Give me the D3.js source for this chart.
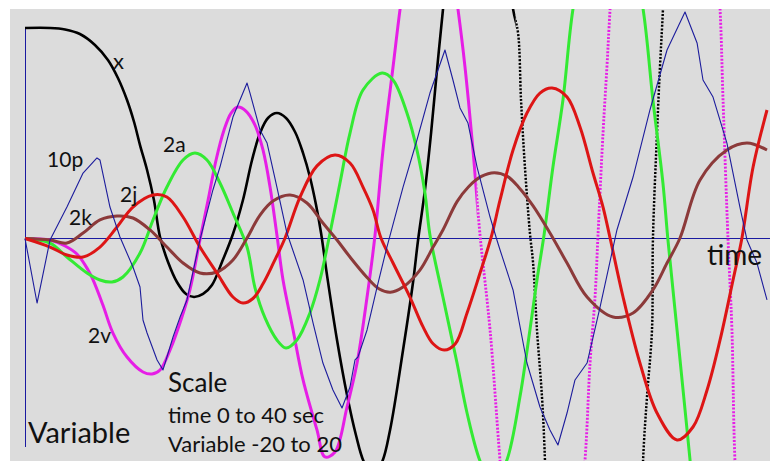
<!DOCTYPE html>
<html>
<head>
<meta charset="utf-8">
<script src="https://cdn.jsdelivr.net/npm/d3@7"></script>
<style>
  html, body { margin: 0; padding: 0; background: #ffffff; }
  svg { display: block; }
  text { font-family: Lato, "Open Sans", sans-serif; fill: #111111; }
</style>
</head>
<body>
<svg id="chart" width="770" height="461"></svg>
<script>
// Scale of the plot: time 0..40 s, variable -20..20
const timeDomain = [0, 40];
const valueDomain = [-20, 20];

// x: position
const xSeries = [
  [0,20],[1.35,20],[2.16,19.86],[2.96,19.43],[3.77,18.39],[4.47,16.96],[5.01,15.25],[5.5,13.16],
  [5.88,11.07],[6.2,8.88],[6.58,6.51],[6.95,3.66],[7.28,0.14],[7.71,-2.23],[8.19,-4.13],[8.68,-5.27],
  [9.11,-5.56],[9.6,-5.27],[10.08,-4.42],[10.62,-2.23],[11.21,0.43],[11.75,3.66],[12.24,7.46],
  [12.67,10.02],[13.1,11.45],[13.58,11.92],[14.07,11.45],[14.56,10.12],[14.99,8.12],[15.36,5.84],
  [15.69,3.18],[15.96,0.52],[16.28,-3.47],[16.82,-9.64],[17.36,-14.87],[17.84,-18.67],[18.27,-21.23],
  [18.76,-22.47],[19.25,-21.23],[19.68,-18.19],[20.38,-10.59],[20.92,-4.13],[21.19,-0.14],[21.56,4.61],
  [21.89,10.02],[22.21,16.01],[22.53,21.71],[23.18,32.2],[24.42,38.8],[25.61,32.2],[26.31,21.8],
  [26.58,19.52],[26.74,13.16],[26.95,6.79],[27.22,0.52],[27.39,-2.33],[27.6,-8.69],[27.87,-15.06],
  [28.03,-21.04],[28.41,-43.9],[30.67,-68.6],[32.94,-43.9],[33.32,-21.04],[33.53,-15.06],[33.8,-8.69],
  [33.85,-0.14],[34.07,10.02],[34.23,16.29],[34.39,21.71],[34.77,36.9],[36.39,60.7],[40,79.6]
];

// 2v: twice the velocity
const v2Series = [
  [0,0],[0.81,-0.05],[1.35,-0.14],[2.16,-0.71],[2.8,-1.47],[3.4,-2.99],[3.67,-3.94],[4.2,-6.32],
  [4.74,-8.98],[5.5,-11.26],[6.36,-12.68],[6.85,-12.87],[7.28,-12.49],[7.82,-10.59],[8.46,-7.46],
  [8.89,-4.89],[9.43,-0.14],[9.87,3.66],[10.3,7.46],[10.73,10.31],[11.11,11.92],[11.48,12.49],
  [11.91,12.11],[12.4,10.78],[12.83,8.41],[13.21,4.89],[13.58,0.33],[13.91,-3.94],[14.45,-8.69],
  [14.99,-13.44],[15.74,-18.19],[16.17,-20.76],[16.71,-20.29],[17.36,-16.01],[17.9,-11.83],
  [18.44,-5.56],[18.87,0.33],[19.3,8.41],[19.84,16.29],[20.22,21.8],[20.75,28.4],[21.78,33.1],
  [22.8,28.4],[23.34,21.8],[23.72,16.29],[24.15,8.41],[24.53,0.33],[25.07,-8.69],[25.61,-21.14],
  [26.25,-34.3],[27.87,-47.2],[29.49,-34.3],[30.19,-21.04],[30.46,-11.83],[30.73,-5.56],[30.89,0.33],
  [31.16,10.02],[31.37,16.29],[31.54,21.8],[32.35,46.4],[34.5,70.2],[36.66,46.4],[37.47,21.8],
  [37.63,13.16],[37.9,-0.14],[38.11,-8.69],[38.27,-21.04],[38.81,-39.1],[40,-62.8]
];

// 2a: twice the acceleration
const a2Series = [
  [0,0],[1.35,-0.43],[2.26,-1.76],[3.34,-3.28],[4.04,-3.94],[4.69,-4.13],[5.28,-3.66],[6.2,-1.38],
  [6.9,1.76],[7.65,4.89],[8.52,7.46],[9.16,8.12],[9.81,7.46],[10.51,5.27],[11.21,2.42],[11.97,-0.81],
  [12.4,-4.7],[12.94,-7.55],[13.58,-9.64],[14.07,-10.4],[14.66,-9.64],[15.36,-7.08],[15.9,-3.94],
  [16.39,0.05],[16.98,5.27],[17.52,10.02],[18.22,14.11],[19.25,15.72],[19.84,15.06],[20.59,11.92],
  [21.13,8.41],[21.56,4.32],[21.83,0.33],[22.53,-5.56],[23.29,-11.83],[23.83,-16.58],[24.53,-21.14],
  [25.23,-23.52],[25.98,-21.04],[26.68,-15.06],[27.22,-8.69],[27.6,-3.94],[27.98,0.33],[28.46,6.79],
  [29.0,13.16],[29.54,21.8],[30.46,30.26],[31.43,35.96],[32.4,30.26],[33.32,21.8],[33.85,13.16],
  [34.39,5.27],[34.66,-0.14],[35.15,-8.69],[35.69,-18.19],[35.85,-21.04],[36.39,-30.5],[40,-81.9]
];

// 2j: twice the jerk
const j2Series = [
  [0,0],[1.35,-0.81],[2.26,-1.57],[3.13,-1.76],[4.04,-0.81],[4.96,1.09],[5.82,2.99],[6.9,4.13],
  [7.65,3.94],[8.52,2.04],[9.43,-0.81],[10.35,-3.28],[11.21,-5.56],[11.75,-6.13],[12.29,-5.7],
  [12.83,-4.3],[13.4,-2.3],[14.02,0.05],[14.82,3.9],[15.74,6.9],[16.71,7.93],[17.52,7.17],
  [18.22,4.89],[18.76,2.71],[19.19,0.05],[19.84,-2.33],[20.75,-5.56],[21.46,-8.4],[22.0,-10.0],
  [22.6,-10.6],[23.2,-10.0],[23.83,-7.08],[24.53,-3.28],[25.12,0.05],[25.61,3.66],[26.31,8.41],
  [27.06,11.92],[27.76,13.82],[28.41,14.3],[29.22,13.44],[29.92,10.59],[30.62,6.22],[31.16,2.99],
  [31.54,0.05],[32.24,-5.56],[33.15,-11.83],[34.07,-16.58],[35.15,-19.14],[36.01,-17.91],
  [36.77,-14.39],[37.47,-9.64],[38.17,-3.94],[38.65,0.05],[39.25,6.79],[40,12.21]
];

// 2k: twice the next derivative
const k2Series = [
  [0,0],[1.35,-0.14],[2.26,-0.43],[3.13,0.52],[4.04,1.76],[4.96,2.14],[5.82,1.95],[6.74,0.81],
  [7.65,-0.81],[8.52,-2.33],[9.43,-3.28],[10.35,-3.18],[11.21,-2.04],[11.97,0.05],[12.67,2.23],
  [13.37,3.56],[14.29,4.13],[15.2,3.37],[16.06,1.47],[16.82,-0.14],[17.52,-1.76],[18.44,-3.7],
  [19.1,-4.8],[19.7,-5.1],[20.38,-4.6],[21.29,-3.0],[22.0,-0.81],[22.53,0.81],[23.29,3.5],
  [23.9,4.9],[24.6,5.9],[25.3,6.25],[26.0,5.9],[26.6,4.9],[27.39,3.1],[28.3,0.52],[29.22,-2.33],
  [30.3,-5.56],[31.7,-7.46],[32.78,-7.08],[33.85,-4.89],[34.61,-2.33],[35.31,0.05],[36.39,5.56],
  [37.84,8.41],[38.92,9.07],[40,8.41]
];

// 10p: ten times the highest derivative (jagged)
const p10Series = [
  [0,0],[0.65,-6.13],[1.35,-0.14],[2.26,2.99],[3.13,6.22],[3.88,7.65],[4.04,7.46],[4.58,2.99],
  [5.12,0.14],[5.82,-2.71],[6.2,-4.61],[6.36,-7.74],[6.58,-8.98],[7.12,-11.54],[7.44,-12.49],
  [7.98,-9.36],[8.36,-7.46],[8.73,-5.84],[9.43,-0.14],[10.13,4.61],[10.51,6.79],[11.21,11.54],
  [11.97,14.77],[12.13,13.82],[12.67,10.31],[13.05,9.07],[13.58,4.89],[14.12,0.52],[14.99,-3.94],
  [15.53,-8.03],[16.06,-11.83],[16.6,-14.39],[17.09,-16.1],[17.52,-14.11],[17.79,-11.54],
  [17.95,-11.26],[18.44,-8.69],[18.98,-4.61],[19.51,-0.81],[20.38,4.89],[21.13,9.36],[21.83,13.82],
  [22.64,17.91],[23.07,15.06],[23.45,12.4],[23.88,10.97],[24.37,6.79],[25.07,2.04],[25.44,-0.14],
  [25.61,-1.09],[26.31,-4.89],[27.06,-11.83],[27.76,-16.01],[28.3,-18.19],[28.73,-19.62],
  [29.22,-16.58],[29.65,-13.44],[30.3,-11.83],[31.0,-6.51],[31.91,0.81],[32.78,5.84],[33.69,12.21],
  [34.61,17.91],[35.58,21.52],[36.23,18.58],[36.55,15.06],[37.09,13.44],[37.84,9.07],[38.54,2.99],
  [38.92,-0.14],[39.46,-2.33],[40,-5.84]
];

// Curve name labels, anchored in data units
const curveLabels = [
  { text: "x",   t: 4.74, v: 16.1 },
  { text: "10p", t: 1.19, v: 6.79 },
  { text: "2a",  t: 7.44, v: 8.22 },
  { text: "2j",  t: 5.12, v: 3.47 },
  { text: "2k",  t: 2.37, v: 1.28 },
  { text: "2v",  t: 3.4,  v: -9.93 }
];
const scaleNote = ["Scale", "time 0 to 40 sec", "Variable -20 to 20"];
const axisTitles = { time: "time", variable: "Variable" };

const W = 770, H = 461;
const panel = { left: 10, top: 9 };

const x = d3.scaleLinear().domain(timeDomain).range([25, 767]);
const y = d3.scaleLinear().domain(valueDomain).range([449, 28]);

const svg = d3.select("#chart");
const defs = svg.append("defs");

svg.append("rect")
  .attr("x", panel.left).attr("y", panel.top)
  .attr("width", W - panel.left).attr("height", H - panel.top)
  .attr("fill", "#dcdcdc");

defs.append("clipPath").attr("id", "panel-clip")
  .append("rect")
  .attr("x", panel.left).attr("y", panel.top)
  .attr("width", W - panel.left).attr("height", H - panel.top);

// axes through the origin
const axes = svg.append("g").attr("stroke", "#1a1aa0").attr("stroke-width", 1).attr("shape-rendering", "crispEdges");
axes.append("line")
  .attr("x1", x(0)).attr("x2", x(0))
  .attr("y1", y(valueDomain[1])).attr("y2", y(valueDomain[0]) - 2);
axes.append("line")
  .attr("x1", x(0)).attr("x2", W)
  .attr("y1", y(0)).attr("y2", y(0));

const smooth = d3.curveCatmullRom.alpha(0.5);
const series = [
  { key: "x",  data: xSeries,   color: "#000000", width: 2.6, dotFrom: 26.45, curve: smooth },
  { key: "v",  data: v2Series,  color: "#e61ee6", width: 3,   dotFrom: 24.35, curve: smooth },
  { key: "a",  data: a2Series,  color: "#33ea33", width: 3,   dotFrom: null,  curve: smooth },
  { key: "k",  data: k2Series,  color: "#8c3a3a", width: 3,   dotFrom: null,  curve: smooth },
  { key: "j",  data: j2Series,  color: "#dd1515", width: 3,   dotFrom: null,  curve: smooth },
  { key: "p",  data: p10Series, color: "#1c1c9c", width: 1.1, dotFrom: null,  curve: d3.curveLinear }
];

const plot = svg.append("g").attr("clip-path", "url(#panel-clip)");

series.forEach(s => {
  const gen = d3.line().x(d => x(d[0])).y(d => y(d[1])).curve(s.curve);
  const path = gen(s.data);
  if (s.dotFrom == null) {
    plot.append("path").attr("d", path)
      .attr("fill", "none").attr("stroke", s.color)
      .attr("stroke-width", s.width).attr("stroke-linejoin", "round");
  } else {
    const split = x(s.dotFrom);
    defs.append("clipPath").attr("id", "solid-" + s.key)
      .append("rect").attr("x", 0).attr("y", -2000).attr("width", split).attr("height", 5000);
    defs.append("clipPath").attr("id", "dot-" + s.key)
      .append("rect").attr("x", split).attr("y", -2000).attr("width", W).attr("height", 5000);
    plot.append("g").attr("clip-path", "url(#solid-" + s.key + ")")
      .append("path").attr("d", path)
      .attr("fill", "none").attr("stroke", s.color)
      .attr("stroke-width", s.width).attr("stroke-linejoin", "round");
    plot.append("g").attr("clip-path", "url(#dot-" + s.key + ")")
      .append("path").attr("d", path)
      .attr("fill", "none").attr("stroke", s.color)
      .attr("stroke-width", s.width * 0.95)
      .attr("stroke-dasharray", "2,1.6");
  }
});

// curve labels
svg.append("g").selectAll("text").data(curveLabels).join("text")
  .attr("x", d => x(d.t)).attr("y", d => y(d.v))
  .attr("font-size", d => d.text === "x" ? 22 : 21)
  .text(d => d.text);

// axis titles
svg.append("text").attr("x", x(36.77)).attr("y", y(-2.52))
  .attr("font-size", 28).text(axisTitles.time);
svg.append("text").attr("x", x(0.16)).attr("y", y(-19.43))
  .attr("font-size", 29).text(axisTitles.variable);

// scale note
const noteSizes = [26, 22, 22];
const noteV = [-14.58, -17.53, -20.29];
svg.append("g").selectAll("text").data(scaleNote).join("text")
  .attr("x", x(7.71)).attr("y", (d, i) => y(noteV[i]))
  .attr("font-size", (d, i) => noteSizes[i])
  .text(d => d);
</script>
</body>
</html>
